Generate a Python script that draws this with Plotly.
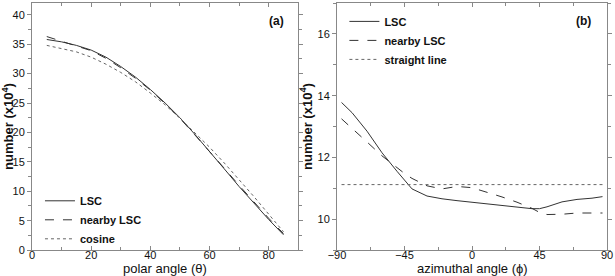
import plotly.graph_objects as go

# Panel (a): polar angle
theta = [5, 10, 15, 20, 25, 30, 35, 40, 45, 50, 55, 60, 65, 70, 75, 80, 85]
lsc_a = [35.8, 35.4, 34.8, 34.0, 32.8, 31.2, 29.4, 27.3, 25.0, 22.5, 19.7, 16.8, 13.8, 10.8, 8.0, 5.2, 2.6]
nearby_a = [36.3, 35.5, 34.8, 33.9, 32.6, 31.0, 29.2, 27.2, 24.9, 22.4, 19.6, 16.8, 13.9, 11.0, 8.2, 5.4, 2.8]
cosine_a = [34.8, 34.3, 33.7, 32.8, 31.6, 30.2, 28.6, 26.7, 24.7, 22.4, 20.0, 17.5, 14.8, 12.0, 9.1, 6.1, 3.1]

# Panel (b): azimuthal angle
phi = [-87, -80, -70, -60, -50, -45, -40, -30, -20, -10, 0, 10, 20, 30, 40, 45, 50, 60, 70, 80, 87]
lsc_b = [13.78, 13.45, 12.85, 12.15, 11.55, 11.25, 10.98, 10.75, 10.66, 10.60, 10.55, 10.49, 10.43, 10.38, 10.34, 10.34, 10.40, 10.56, 10.64, 10.68, 10.73]
nearby_b = [13.25, 12.95, 12.50, 12.05, 11.65, 11.48, 11.32, 11.08, 10.98, 11.06, 11.02, 10.88, 10.72, 10.55, 10.35, 10.22, 10.15, 10.16, 10.20, 10.20, 10.20]
straight_b = [11.12] * len(phi)

FONT = "Liberation Sans, Arial"

fig = go.Figure()
solid = dict(color="#333333", width=1)
dashed = dict(color="#333333", width=1, dash="dash")
dotted = dict(color="#666666", width=1, dash="dot")

fig.add_trace(go.Scatter(x=theta, y=lsc_a, mode="lines", name="LSC", line=solid, xaxis="x", yaxis="y", legend="legend"))
fig.add_trace(go.Scatter(x=theta, y=nearby_a, mode="lines", name="nearby LSC", line=dashed, xaxis="x", yaxis="y", legend="legend"))
fig.add_trace(go.Scatter(x=theta, y=cosine_a, mode="lines", name="cosine", line=dotted, xaxis="x", yaxis="y", legend="legend"))

fig.add_trace(go.Scatter(x=phi, y=lsc_b, mode="lines", name="LSC", line=solid, xaxis="x2", yaxis="y2", legend="legend2"))
fig.add_trace(go.Scatter(x=phi, y=nearby_b, mode="lines", name="nearby LSC", line=dashed, xaxis="x2", yaxis="y2", legend="legend2"))
fig.add_trace(go.Scatter(x=phi, y=straight_b, mode="lines", name="straight line", line=dotted, xaxis="x2", yaxis="y2", legend="legend2"))

axis_common = dict(showline=True, linecolor="#888888", linewidth=1, mirror="ticks",
                   showgrid=False, zeroline=False, ticklen=4, tickcolor="#888888", automargin=False,
                   tickfont=dict(family=FONT, size=11, color="#111111"),
                   title_font=dict(family=FONT, size=13, color="#111111"))

legend_font = dict(family=FONT, size=11, color="#111111", weight="bold")

fig.update_layout(
    width=615, height=276,
    margin=dict(l=0, r=0, t=0, b=0, autoexpand=False),
    paper_bgcolor="white", plot_bgcolor="white",
    font=dict(family=FONT, color="#111111"),
    xaxis=dict(domain=[0.052, 0.485], range=[0, 90], tickvals=[0, 20, 40, 60, 80], ticks="inside",
               minor=dict(dtick=10, tick0=0, ticks="inside", ticklen=3, tickcolor="#888888"),
               ticklabelstandoff=-5, anchor="y", **axis_common),
    yaxis=dict(domain=[0.094, 0.989], range=[0, 42], tickvals=[0, 5, 10, 15, 20, 25, 30, 35, 40], ticks="outside",
               minor=dict(dtick=2.5, tick0=0, ticks="outside", ticklen=3, tickcolor="#888888"),
               title=dict(text="<b>number (x10<sup>4</sup>)</b>", standoff=2), anchor="x", **axis_common),
    xaxis2=dict(domain=[0.548, 0.987], range=[-90, 90], tickvals=[-90, -45, 0, 45, 90], ticks="inside",
                minor=dict(dtick=22.5, tick0=-90, ticks="inside", ticklen=3, tickcolor="#888888"),
                ticklabelstandoff=-5, anchor="y2", **axis_common),
    yaxis2=dict(domain=[0.094, 0.989], range=[9, 17], tickvals=[10, 12, 14, 16], ticks="outside",
                minor=dict(dtick=1, tick0=9, ticks="outside", ticklen=3, tickcolor="#888888"),
                title=dict(text="<b>number (x10<sup>4</sup>)</b>", standoff=2), anchor="x2", **axis_common),
    legend=dict(x=0.065, y=0.325, xanchor="left", yanchor="top", bgcolor="rgba(0,0,0,0)",
                font=legend_font, tracegroupgap=0, itemwidth=30),
    legend2=dict(x=0.56, y=0.975, xanchor="left", yanchor="top", bgcolor="rgba(0,0,0,0)",
                 font=legend_font, tracegroupgap=0, itemwidth=30),
    annotations=[
        dict(text="<b>(a)</b>", x=0.465, y=0.925, xref="paper", yref="paper", xanchor="right", yanchor="middle",
             showarrow=False, font=dict(family=FONT, size=12, color="#111111")),
        dict(text="<b>(b)</b>", x=0.965, y=0.925, xref="paper", yref="paper", xanchor="right", yanchor="middle",
             showarrow=False, font=dict(family=FONT, size=12, color="#111111")),
        dict(text="polar angle (θ)", x=0.2685, y=0.027, xref="paper", yref="paper", xanchor="center", yanchor="middle",
             showarrow=False, font=dict(family=FONT, size=13, color="#111111")),
        dict(text="azimuthal angle (ϕ)", x=0.7675, y=0.027, xref="paper", yref="paper", xanchor="center", yanchor="middle",
             showarrow=False, font=dict(family=FONT, size=13, color="#111111")),
    ],
)

fig.write_html("out.html", config={"displayModeBar": False},
               post_script="document.body.style.margin='0';document.body.style.padding='0';document.body.style.overflow='hidden';")
